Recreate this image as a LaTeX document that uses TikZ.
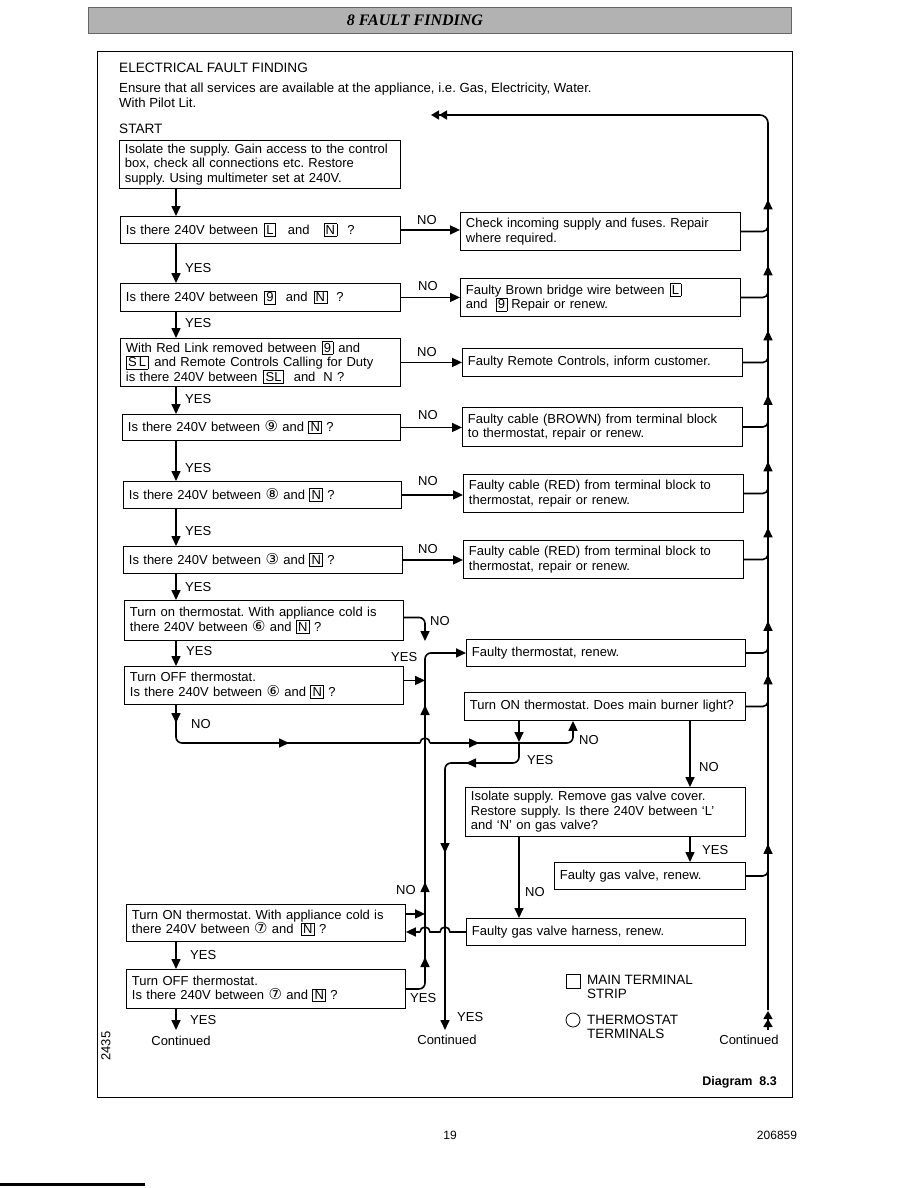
\documentclass[tikz,border=0pt]{standalone}
\usepackage{fontspec}
\setmainfont{Liberation Sans}
\newfontfamily\dejavu{DejaVu Sans}
\newfontfamily\serifbi{Liberation Serif}
\usetikzlibrary{arrows.meta}
\frenchspacing
\newcommand\fs{\fontsize{13}{14.5}\selectfont}
\newcommand\tb[1]{{\setlength\fboxsep{1.5pt}\setlength\fboxrule{0.7pt}\fbox{\vphantom{L}#1}}}
\newcommand\cn[1]{{\dejavu\fontsize{15}{15}\selectfont #1}}
\newcommand\gp[1]{\hspace*{#1pt}}
\tikzset{
  box/.style={draw, line width=0.9pt, anchor=north west, inner xsep=5.5pt, inner ysep=2pt, align=left, font=\fs},
  conn/.style={line width=1.6pt},
  tip/.style={-{Triangle[length=10pt,width=9pt]}},
  dtip/.style={-{Triangle[length=8pt,width=9pt]Triangle[length=8pt,width=9pt]}},
  lbl/.style={font=\fs, inner sep=0pt, anchor=west},
  ctr/.style={font=\fs, inner sep=0pt}
}
\begin{document}
\begin{tikzpicture}[x=1pt,y=-1pt]
\useasboundingbox (0,0) rectangle (918,1188);
% header
\fill[black!30] (88,7) rectangle (791,33);
\draw[line width=0.5pt, black!60] (88,7) rectangle (791,33);
\node[font=\serifbi\bfseries\itshape\fontsize{16}{17}\selectfont, inner sep=0pt] (title) at (415,20) {8 FAULT FINDING};
% frame
\draw[line width=0.8pt] (97,51) rectangle (792,1097);
\node[lbl, font=\fontsize{13.6}{15}\selectfont] (h1) at (119,68) {ELECTRICAL FAULT FINDING};
\node[lbl, font=\fontsize{13.2}{15}\selectfont] (h2) at (119,89) {Ensure that all services are available at the appliance, i.e. Gas, Electricity, Water.};
\node[lbl, font=\fontsize{13.2}{15}\selectfont] (h3) at (119,103) {With Pilot Lit.};
\node[lbl, font=\fontsize{13.6}{15}\selectfont] (start) at (119,129) {START};

\coordinate (lc) at (176,0);
\coordinate (v) at (425,0);
\coordinate (mt) at (768,115);
\coordinate (mb) at (768,1010);

% left boxes
\node[box, text width=270pt, minimum height=48pt] (b0) at (119,140) {Isolate the supply. Gain access to the control\\box, check all connections etc. Restore\\supply. Using multimeter set at 240V.};
\node[box, text width=269pt, minimum height=27pt] (q1) at (120,216) {Is there 240V between\gp{6}\tb{L}\gp{12}and\gp{14}\tb{N}\gp{10}?};
\node[box, text width=269pt, minimum height=28pt] (q2) at (120,283) {Is there 240V between\gp{6}\tb{9}\gp{10}and\gp{6}\tb{N}\gp{9}?};
\node[box, text width=269pt, minimum height=48pt] (q3) at (120,338) {With Red Link removed between\gp{5}\tb{9}\gp{5}and\\\tb{S\,L}\gp{6}and Remote Controls Calling for Duty\\is there 240V between\gp{6}\tb{SL}\gp{10}and\gp{8}N ?};
\node[box, text width=267pt, minimum height=26pt] (q4) at (122,414) {Is there 240V between \cn{⑨} and \tb{N} ?};
\node[box, text width=267pt, minimum height=27pt] (q5) at (123,481) {Is there 240V between \cn{⑧} and \tb{N} ?};
\node[box, text width=268pt, minimum height=27pt] (q6) at (123,546) {Is there 240V between \cn{③} and \tb{N} ?};
\node[box, text width=268pt, minimum height=40pt] (q7) at (124,600) {Turn on thermostat. With appliance cold is\\there 240V between \cn{⑥} and \tb{N} ?};
\node[box, text width=268pt, minimum height=38pt] (q8) at (124,666) {Turn OFF thermostat.\\Is there 240V between \cn{⑥} and \tb{N} ?};
\node[box, text width=268pt, minimum height=37pt] (q9) at (126,904) {Turn ON thermostat. With appliance cold is\\there 240V between \cn{⑦} and \gp{3}\tb{N} ?};
\node[box, text width=268pt, minimum height=39pt] (q10) at (126,969) {Turn OFF thermostat.\\Is there 240V between \cn{⑦} and \tb{N} ?};

% right boxes
\node[box, text width=269pt, minimum height=38pt] (r1) at (460,212) {Check incoming supply and fuses. Repair\\where required.};
\node[box, text width=269pt, minimum height=38pt] (r2) at (460,278) {Faulty Brown bridge wire between\gp{5}\tb{L}\\and\gp{8}\tb{9}\gp{4}Repair or renew.};
\node[box, text width=269pt, minimum height=28pt] (r3) at (462,348) {Faulty Remote Controls, inform customer.};
\node[box, text width=269pt, minimum height=39pt] (r4) at (462,407) {Faulty cable (BROWN) from terminal block\\to thermostat, repair or renew.};
\node[box, text width=269pt, minimum height=38pt] (r5) at (463,474) {Faulty cable (RED) from terminal block to\\thermostat, repair or renew.};
\node[box, text width=269pt, minimum height=38pt] (r6) at (463,540) {Faulty cable (RED) from terminal block to\\thermostat, repair or renew.};
\node[box, text width=268pt, minimum height=27pt] (r7) at (466,639) {Faulty thermostat, renew.};
\node[box, text width=270pt, minimum height=28pt] (r8) at (464,692) {Turn ON thermostat. Does main burner light?};
\node[box, text width=269pt, minimum height=49pt] (r9) at (465,787) {Isolate supply. Remove gas valve cover.\\Restore supply. Is there 240V between `L'\\and `N' on gas valve?};
\node[box, text width=180pt, minimum height=27pt] (r11) at (554,862) {Faulty gas valve, renew.};
\node[box, text width=268pt, minimum height=27pt] (r10) at (466,918) {Faulty gas valve harness, renew.};

% main return line
\draw[conn, rounded corners=8pt, dtip] (mb) -- (mt) -- (431,115);
\draw[conn, dtip] (768,1030) -- (768,1011);
\foreach \r in {r1,r2,r3,r4,r5,r6,r7,r8,r11}{
  \draw[conn, rounded corners=5pt] (\r.east) -| ([yshift=12pt]\r.east -| mt);
  \draw[conn, tip] ([yshift=18pt]\r.east -| mt) -- ([yshift=32pt]\r.east -| mt);
}

% YES chain
\foreach \a/\b in {b0/q1,q1/q2,q2/q3,q3/q4,q4/q5,q5/q6,q6/q7,q7/q8,q9/q10}{
  \draw[conn, tip] (\a.south -| lc) -- (\b.north -| lc);
}
\draw[conn, tip] (q10.south -| lc) -- (176,1030);
% NO arrows
\foreach \q/\r in {q1/r1,q2/r2,q3/r3,q4/r4,q5/r5,q6/r6}{
  \draw[conn, tip] (\q.east) -- (\q.east -| \r.west);
}
% thermostat junctions
\draw[conn, rounded corners=6pt, tip] ([yshift=3pt]q7.east) -- ([yshift=3pt]q7.east -| v) -- (425,641);
\draw[conn, rounded corners=6pt, tip] (q10.east) -- (q10.east -| v) -- (r7.west -| v) -- (r7.west);
\draw[conn, tip] (425,719) -- (425,705);
\draw[conn, tip] (425,896) -- (425,882);
\draw[conn, tip] (425,971) -- (425,957);
\draw[conn, tip] ([yshift=5pt]q8.east) -- ([yshift=5pt]q8.east -| v);
\draw[conn, tip] ([yshift=9pt]q9.east) -- ([yshift=9pt]q9.east -| v);
\draw[conn] (r10.west) -- (450,932) arc[start angle=0, end angle=-180, radius=5] -- (430,932) arc[start angle=0, end angle=-180, radius=5];
\draw[conn, tip] (420,932) -- ([yshift=-9pt]q9.east);

% Q8 NO path
\draw[conn, rounded corners=6pt] (q8.south -| lc) -- (176,743) -- (420,743);
\draw[conn] (420,743) arc[start angle=180, end angle=360, radius=5];
\draw[conn, rounded corners=6pt, tip] (430,743) -- (573,743) -- (r8.south -| 573,0);
\draw[conn, tip] (176,706) -- (176,723);
\draw[conn, tip] (272,743) -- (289,743);
\draw[conn, tip] (462,743) -- (479,743);

% R8 YES path
\draw[conn, tip] (r8.south -| 519,0) -- (519,742);
\draw[conn, rounded corners=6pt, tip] (519,742) -- (519,763) -- (445,763) -- (445,1030);
\draw[conn, tip] (483,763) -- (466,763);
\draw[conn, tip] (445,836) -- (445,853);

\draw[conn, tip] (r8.south -| 690,0) -- (r9.north -| 690,0);
\draw[conn, tip] (r9.south -| 690,0) -- (r11.north -| 690,0);
\draw[conn, tip] (r9.south -| 519,0) -- (r10.north -| 519,0);

% labels
\foreach \y in {268,323,399,468,531,587}{ \node[lbl] at (185,\y) {YES}; }
\node[lbl] at (186,651) {YES};
\node[lbl] at (191,724) {NO};
\node[lbl] at (190,955) {YES};
\node[lbl] at (190,1020) {YES};
\node[lbl] at (417,220) {NO};
\node[lbl] at (418,286) {NO};
\node[lbl] at (417,352) {NO};
\node[lbl] at (418,415) {NO};
\node[lbl] at (418,481) {NO};
\node[lbl] at (418,549) {NO};
\node[lbl] at (430,621) {NO};
\node[lbl] at (391,657) {YES};
\node[lbl] at (396,890) {NO};
\node[lbl] at (410,998) {YES};
\node[lbl] at (457,1017) {YES};
\node[lbl] at (527,760) {YES};
\node[lbl] at (579,740) {NO};
\node[lbl] at (699,767) {NO};
\node[lbl] at (702,850) {YES};
\node[lbl] at (525,892) {NO};
\node[ctr] at (181,1041) {Continued};
\node[ctr] at (447,1040) {Continued};
\node[ctr] at (749,1040) {Continued};

% legend
\draw[line width=0.8pt] (566,974) rectangle (580,988);
\draw[line width=0.8pt] (573,1020) circle (7);
\node[anchor=north west, inner sep=0pt, align=left, font=\fontsize{13.5}{14}\selectfont] (lg1) at (587,975) {MAIN TERMINAL\\STRIP};
\node[anchor=north west, inner sep=0pt, align=left, font=\fontsize{13.5}{14}\selectfont] (lg2) at (587,1015) {THERMOSTAT\\TERMINALS};

\node[rotate=90, font=\fontsize{13}{13}\selectfont, inner sep=0pt] at (106,1046) {2435};
\node[anchor=east, font=\bfseries\fontsize{12.5}{14}\selectfont, inner sep=0pt] at (777,1082) {Diagram \ 8.3};
\node[font=\fontsize{12}{13}\selectfont, inner sep=0pt] at (450,1135) {19};
\node[font=\fontsize{12}{13}\selectfont, inner sep=0pt] at (777,1135) {206859};
\fill (0,1183) rectangle (145,1186);
\end{tikzpicture}
\end{document}
